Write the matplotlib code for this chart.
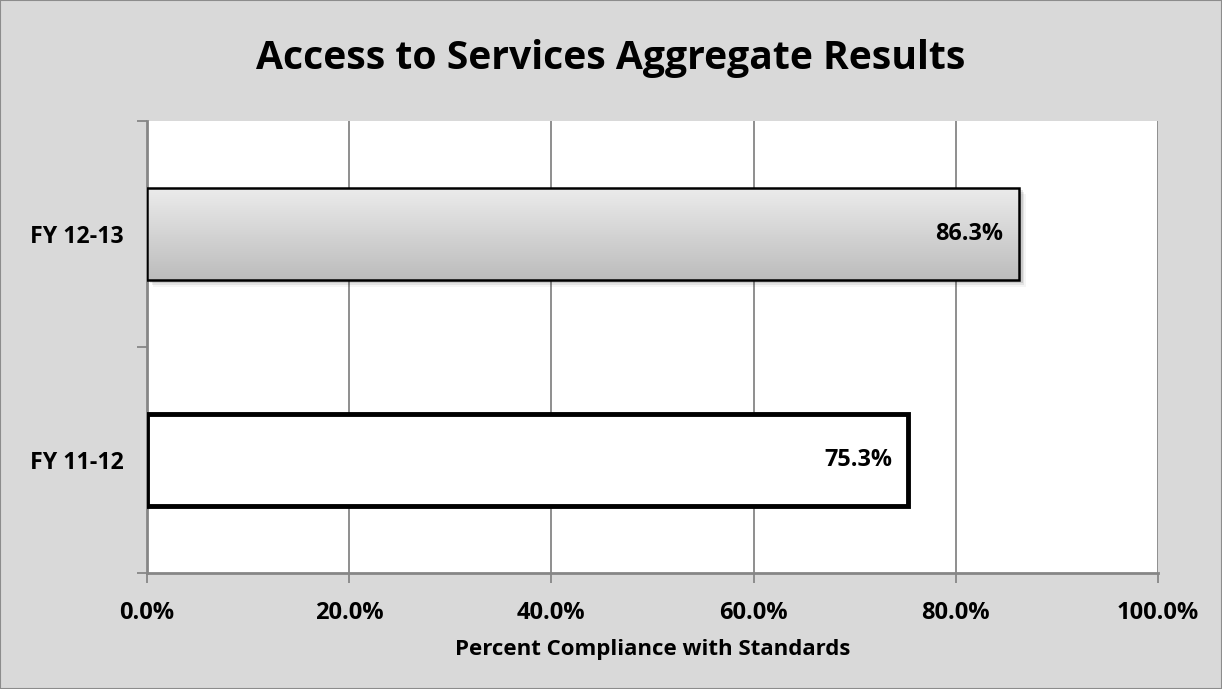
import numpy as np
import matplotlib
matplotlib.use('Agg')
import matplotlib.pyplot as plt
from matplotlib.patches import Rectangle
from matplotlib.ticker import FuncFormatter, FixedLocator

# ---- data ----
categories = ['FY 11-12', 'FY 12-13']
compliance = [75.3, 86.3]
x_ticks = [0, 20, 40, 60, 80, 100]

plt.rcParams['font.family'] = ['Open Sans', 'DejaVu Sans']

fig = plt.figure(figsize=(12.22, 6.89), dpi=100)
fig.patch.set_facecolor('#d9d9d9')
fig.patches.append(Rectangle((0, 0), 1, 1, transform=fig.transFigure,
                             fill=False, edgecolor='#8c8c8c', linewidth=1.5))

ax = fig.add_axes([147 / 1222, 1 - 573 / 689, (1158 - 147) / 1222, (573 - 121) / 689])
ax.set_facecolor('white')

bar_h = 0.41
y = np.arange(len(categories))

# FY 11-12: white bar with heavy black border
ax.barh(y[0], compliance[0], height=bar_h, color='white', edgecolor='black',
        linewidth=3.5, zorder=3)

# FY 12-13: grey gradient bar with soft drop shadow
for k, a in enumerate([0.10, 0.07, 0.04]):
    sh = Rectangle((0.3 + k * 0.15, y[1] - bar_h / 2 - 0.012 - k * 0.008),
                   compliance[1], bar_h, facecolor='black', alpha=a,
                   edgecolor='none', zorder=2)
    ax.add_patch(sh)
bar = ax.barh(y[1], compliance[1], height=bar_h, color='none',
              edgecolor='black', linewidth=1.8, zorder=4)[0]
grad = np.linspace(0, 1, 256).reshape(-1, 1)
img = ax.imshow(grad, cmap=matplotlib.colors.LinearSegmentedColormap.from_list(
    'g', ['#bcbcbc', '#ececec']), origin='lower', aspect='auto',
    extent=(0, compliance[1], y[1] - bar_h / 2, y[1] + bar_h / 2), zorder=3)
img.set_clip_path(bar)
ax.set_xlim(0, 100)
ax.set_ylim(-0.5, 1.5)

# value labels inside bar ends
for yi, v in zip(y, compliance):
    ax.text(v - 1.6, yi, f'{v:.1f}%', ha='right', va='center',
            fontsize=16.8, fontweight='bold', zorder=5)

# grid and axes
ax.xaxis.set_major_locator(FixedLocator(x_ticks))
ax.xaxis.set_major_formatter(FuncFormatter(lambda v, p: f'{v:.1f}%'))
ax.grid(axis='x', color='#868686', linewidth=1.3, zorder=1)
ax.set_axisbelow(True)

ax.set_yticks([-0.5, 0.5, 1.5])
ax.set_yticklabels([])
ax.set_yticks(y, minor=True)
ax.set_yticklabels(categories, minor=True, fontsize=16.7, fontweight='bold')
ax.tick_params(axis='y', which='minor', length=0, pad=17)
ax.tick_params(axis='y', which='major', length=7, width=1.3, color='#868686',
               direction='out')
ax.tick_params(axis='x', length=7, width=1.3, color='#868686', direction='out',
               labelsize=17, pad=13)
for lbl in ax.get_xticklabels():
    lbl.set_fontweight('bold')

for s in ['top', 'right']:
    ax.spines[s].set_visible(False)
for s in ['left', 'bottom']:
    ax.spines[s].set_color('#868686')
    ax.spines[s].set_linewidth(2)

ax.set_xlabel('Percent Compliance with Standards', fontsize=16,
              fontweight='bold', labelpad=10)

fig.text(0.5, 1 - 58 / 689, 'Access to Services Aggregate Results',
         ha='center', va='center', fontsize=28.2, fontweight='bold')

fig.savefig('out.png', dpi=100, facecolor=fig.get_facecolor())
